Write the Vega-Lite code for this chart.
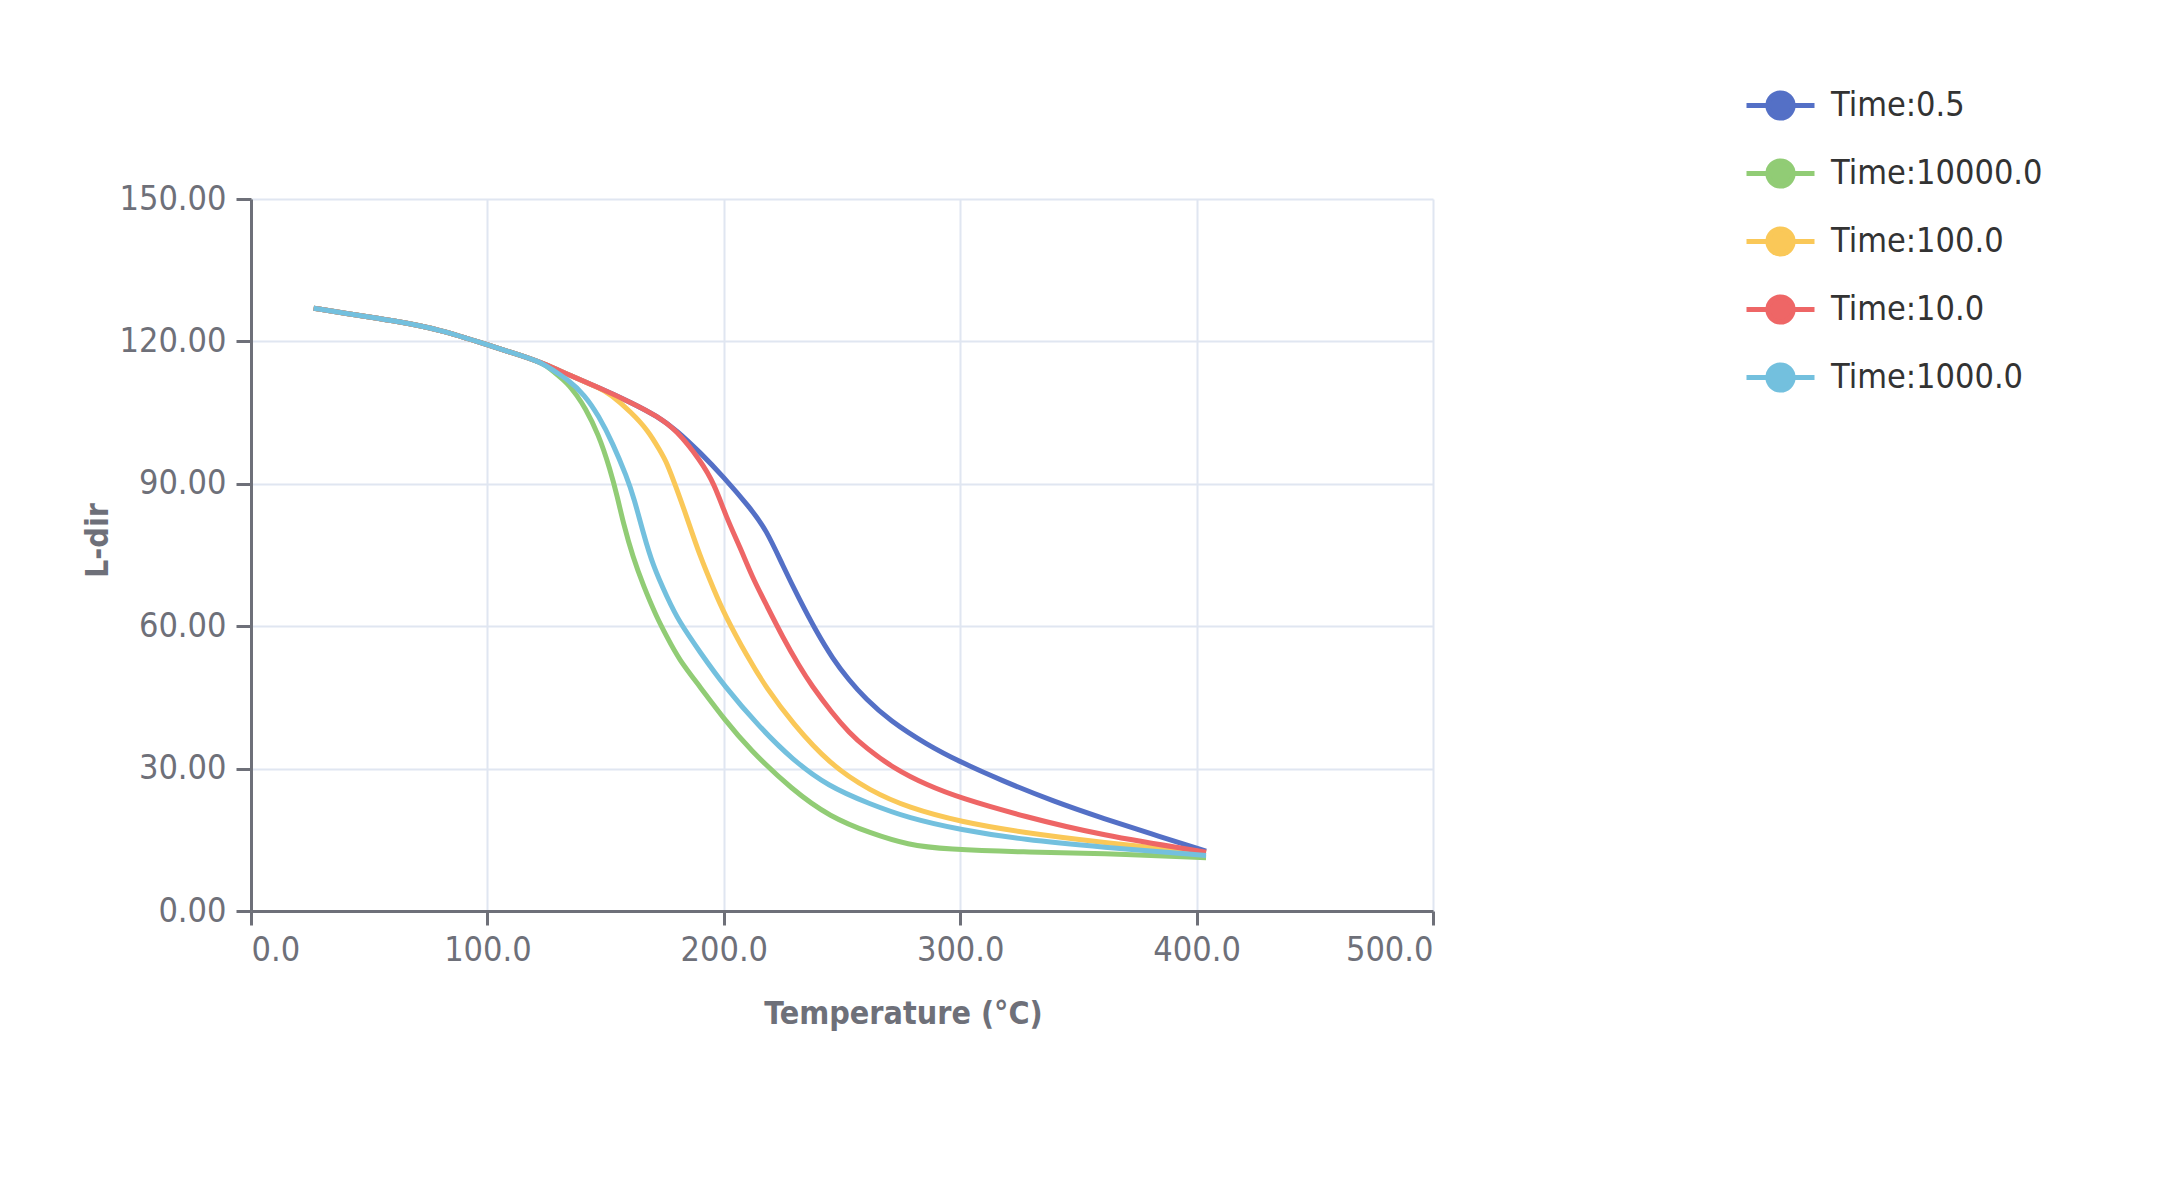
{
  "$schema": "https://vega.github.io/schema/vega-lite/v6.json",
  "width": 1182,
  "height": 712,
  "autosize": {"type": "none"},
  "padding": {"left": 251, "top": 199, "right": 748, "bottom": 266},
  "background": "white",
  "view": {"stroke": null},
  "config": {
    "font": "DejaVu Sans Condensed",
    "axis": {
      "labelFont": "DejaVu Sans Condensed",
      "titleFont": "DejaVu Sans Condensed",
      "labelFontSize": 34,
      "titleFontSize": 32,
      "labelColor": "#6E7079",
      "titleColor": "#6E7079",
      "titleFontWeight": "bold",
      "domainColor": "#6E7079",
      "domainWidth": 3,
      "tickColor": "#6E7079",
      "tickWidth": 3,
      "tickSize": 15,
      "gridColor": "#E0E6F1",
      "gridWidth": 2
    },
    "legend": {
      "labelFont": "DejaVu Sans Condensed",
      "labelFontSize": 34,
      "labelColor": "#333333",
      "labelLimit": 0
    }
  },
  "data": {
    "values": [
      {"Time": "Time:0.5", "Temperature": 26.5, "L_dir": 127.0},
      {"Time": "Time:0.5", "Temperature": 40, "L_dir": 125.9},
      {"Time": "Time:0.5", "Temperature": 60, "L_dir": 124.4},
      {"Time": "Time:0.5", "Temperature": 80, "L_dir": 122.5},
      {"Time": "Time:0.5", "Temperature": 100, "L_dir": 119.3},
      {"Time": "Time:0.5", "Temperature": 115, "L_dir": 116.9},
      {"Time": "Time:0.5", "Temperature": 124, "L_dir": 115.3},
      {"Time": "Time:0.5", "Temperature": 135, "L_dir": 112.8},
      {"Time": "Time:0.5", "Temperature": 147, "L_dir": 110.3},
      {"Time": "Time:0.5", "Temperature": 161, "L_dir": 107.1},
      {"Time": "Time:0.5", "Temperature": 172, "L_dir": 104.2},
      {"Time": "Time:0.5", "Temperature": 180, "L_dir": 101.3},
      {"Time": "Time:0.5", "Temperature": 190, "L_dir": 96.6},
      {"Time": "Time:0.5", "Temperature": 200, "L_dir": 91.4},
      {"Time": "Time:0.5", "Temperature": 211, "L_dir": 85.0},
      {"Time": "Time:0.5", "Temperature": 218, "L_dir": 80.3},
      {"Time": "Time:0.5", "Temperature": 225, "L_dir": 72.7},
      {"Time": "Time:0.5", "Temperature": 232, "L_dir": 65.6},
      {"Time": "Time:0.5", "Temperature": 239, "L_dir": 59.0},
      {"Time": "Time:0.5", "Temperature": 246, "L_dir": 53.2},
      {"Time": "Time:0.5", "Temperature": 253, "L_dir": 48.6},
      {"Time": "Time:0.5", "Temperature": 260, "L_dir": 44.7},
      {"Time": "Time:0.5", "Temperature": 270, "L_dir": 40.2},
      {"Time": "Time:0.5", "Temperature": 286, "L_dir": 35.0},
      {"Time": "Time:0.5", "Temperature": 300, "L_dir": 31.4},
      {"Time": "Time:0.5", "Temperature": 317, "L_dir": 27.6},
      {"Time": "Time:0.5", "Temperature": 340, "L_dir": 23.0},
      {"Time": "Time:0.5", "Temperature": 360, "L_dir": 19.6},
      {"Time": "Time:0.5", "Temperature": 380, "L_dir": 16.4},
      {"Time": "Time:0.5", "Temperature": 404, "L_dir": 12.6},

      {"Time": "Time:10000.0", "Temperature": 26.5, "L_dir": 127.0},
      {"Time": "Time:10000.0", "Temperature": 40, "L_dir": 125.9},
      {"Time": "Time:10000.0", "Temperature": 60, "L_dir": 124.4},
      {"Time": "Time:10000.0", "Temperature": 80, "L_dir": 122.5},
      {"Time": "Time:10000.0", "Temperature": 100, "L_dir": 119.3},
      {"Time": "Time:10000.0", "Temperature": 115, "L_dir": 116.9},
      {"Time": "Time:10000.0", "Temperature": 124, "L_dir": 115.3},
      {"Time": "Time:10000.0", "Temperature": 128, "L_dir": 113.6},
      {"Time": "Time:10000.0", "Temperature": 134, "L_dir": 111.2},
      {"Time": "Time:10000.0", "Temperature": 138, "L_dir": 108.5},
      {"Time": "Time:10000.0", "Temperature": 141, "L_dir": 106.3},
      {"Time": "Time:10000.0", "Temperature": 147, "L_dir": 100.5},
      {"Time": "Time:10000.0", "Temperature": 152, "L_dir": 92.9},
      {"Time": "Time:10000.0", "Temperature": 155, "L_dir": 87.2},
      {"Time": "Time:10000.0", "Temperature": 157.5, "L_dir": 81.7},
      {"Time": "Time:10000.0", "Temperature": 161.5, "L_dir": 74.6},
      {"Time": "Time:10000.0", "Temperature": 166, "L_dir": 68.5},
      {"Time": "Time:10000.0", "Temperature": 171.5, "L_dir": 62.0},
      {"Time": "Time:10000.0", "Temperature": 176, "L_dir": 57.7},
      {"Time": "Time:10000.0", "Temperature": 181, "L_dir": 53.0},
      {"Time": "Time:10000.0", "Temperature": 190, "L_dir": 47.2},
      {"Time": "Time:10000.0", "Temperature": 200, "L_dir": 40.5},
      {"Time": "Time:10000.0", "Temperature": 211, "L_dir": 34.0},
      {"Time": "Time:10000.0", "Temperature": 229, "L_dir": 25.5},
      {"Time": "Time:10000.0", "Temperature": 245, "L_dir": 19.8},
      {"Time": "Time:10000.0", "Temperature": 262, "L_dir": 16.4},
      {"Time": "Time:10000.0", "Temperature": 278, "L_dir": 13.9},
      {"Time": "Time:10000.0", "Temperature": 294, "L_dir": 13.0},
      {"Time": "Time:10000.0", "Temperature": 327, "L_dir": 12.4},
      {"Time": "Time:10000.0", "Temperature": 359, "L_dir": 12.2},
      {"Time": "Time:10000.0", "Temperature": 404, "L_dir": 11.2},

      {"Time": "Time:100.0", "Temperature": 26.5, "L_dir": 127.0},
      {"Time": "Time:100.0", "Temperature": 40, "L_dir": 125.9},
      {"Time": "Time:100.0", "Temperature": 60, "L_dir": 124.4},
      {"Time": "Time:100.0", "Temperature": 80, "L_dir": 122.5},
      {"Time": "Time:100.0", "Temperature": 100, "L_dir": 119.3},
      {"Time": "Time:100.0", "Temperature": 115, "L_dir": 116.9},
      {"Time": "Time:100.0", "Temperature": 124, "L_dir": 115.3},
      {"Time": "Time:100.0", "Temperature": 135, "L_dir": 112.8},
      {"Time": "Time:100.0", "Temperature": 147, "L_dir": 110.3},
      {"Time": "Time:100.0", "Temperature": 152, "L_dir": 108.9},
      {"Time": "Time:100.0", "Temperature": 161, "L_dir": 105.0},
      {"Time": "Time:100.0", "Temperature": 168, "L_dir": 101.2},
      {"Time": "Time:100.0", "Temperature": 173, "L_dir": 97.0},
      {"Time": "Time:100.0", "Temperature": 176, "L_dir": 94.4},
      {"Time": "Time:100.0", "Temperature": 180, "L_dir": 89.0},
      {"Time": "Time:100.0", "Temperature": 184, "L_dir": 83.5},
      {"Time": "Time:100.0", "Temperature": 190, "L_dir": 74.6},
      {"Time": "Time:100.0", "Temperature": 196, "L_dir": 67.5},
      {"Time": "Time:100.0", "Temperature": 200, "L_dir": 62.8},
      {"Time": "Time:100.0", "Temperature": 210, "L_dir": 53.5},
      {"Time": "Time:100.0", "Temperature": 218, "L_dir": 47.0},
      {"Time": "Time:100.0", "Temperature": 229, "L_dir": 39.6},
      {"Time": "Time:100.0", "Temperature": 245, "L_dir": 30.8},
      {"Time": "Time:100.0", "Temperature": 262, "L_dir": 25.3},
      {"Time": "Time:100.0", "Temperature": 278, "L_dir": 21.8},
      {"Time": "Time:100.0", "Temperature": 300, "L_dir": 18.8},
      {"Time": "Time:100.0", "Temperature": 327, "L_dir": 16.5},
      {"Time": "Time:100.0", "Temperature": 359, "L_dir": 14.5},
      {"Time": "Time:100.0", "Temperature": 404, "L_dir": 12.2},

      {"Time": "Time:10.0", "Temperature": 26.5, "L_dir": 127.0},
      {"Time": "Time:10.0", "Temperature": 40, "L_dir": 125.9},
      {"Time": "Time:10.0", "Temperature": 60, "L_dir": 124.4},
      {"Time": "Time:10.0", "Temperature": 80, "L_dir": 122.5},
      {"Time": "Time:10.0", "Temperature": 100, "L_dir": 119.3},
      {"Time": "Time:10.0", "Temperature": 115, "L_dir": 116.9},
      {"Time": "Time:10.0", "Temperature": 124, "L_dir": 115.3},
      {"Time": "Time:10.0", "Temperature": 135, "L_dir": 112.8},
      {"Time": "Time:10.0", "Temperature": 147, "L_dir": 110.3},
      {"Time": "Time:10.0", "Temperature": 161, "L_dir": 107.1},
      {"Time": "Time:10.0", "Temperature": 172, "L_dir": 104.2},
      {"Time": "Time:10.0", "Temperature": 180, "L_dir": 101.3},
      {"Time": "Time:10.0", "Temperature": 190, "L_dir": 95.0},
      {"Time": "Time:10.0", "Temperature": 196, "L_dir": 90.0},
      {"Time": "Time:10.0", "Temperature": 201, "L_dir": 83.0},
      {"Time": "Time:10.0", "Temperature": 207, "L_dir": 76.5},
      {"Time": "Time:10.0", "Temperature": 212, "L_dir": 70.4},
      {"Time": "Time:10.0", "Temperature": 218, "L_dir": 64.5},
      {"Time": "Time:10.0", "Temperature": 225, "L_dir": 57.6},
      {"Time": "Time:10.0", "Temperature": 232, "L_dir": 51.5},
      {"Time": "Time:10.0", "Temperature": 237, "L_dir": 47.6},
      {"Time": "Time:10.0", "Temperature": 246, "L_dir": 41.6},
      {"Time": "Time:10.0", "Temperature": 253, "L_dir": 37.6},
      {"Time": "Time:10.0", "Temperature": 260, "L_dir": 34.4},
      {"Time": "Time:10.0", "Temperature": 272, "L_dir": 30.0},
      {"Time": "Time:10.0", "Temperature": 286, "L_dir": 26.5},
      {"Time": "Time:10.0", "Temperature": 300, "L_dir": 23.8},
      {"Time": "Time:10.0", "Temperature": 327, "L_dir": 19.9},
      {"Time": "Time:10.0", "Temperature": 359, "L_dir": 16.0},
      {"Time": "Time:10.0", "Temperature": 404, "L_dir": 12.4},

      {"Time": "Time:1000.0", "Temperature": 26.5, "L_dir": 127.0},
      {"Time": "Time:1000.0", "Temperature": 40, "L_dir": 125.9},
      {"Time": "Time:1000.0", "Temperature": 60, "L_dir": 124.4},
      {"Time": "Time:1000.0", "Temperature": 80, "L_dir": 122.5},
      {"Time": "Time:1000.0", "Temperature": 100, "L_dir": 119.3},
      {"Time": "Time:1000.0", "Temperature": 115, "L_dir": 116.9},
      {"Time": "Time:1000.0", "Temperature": 124, "L_dir": 115.3},
      {"Time": "Time:1000.0", "Temperature": 128, "L_dir": 113.8},
      {"Time": "Time:1000.0", "Temperature": 134, "L_dir": 112.0},
      {"Time": "Time:1000.0", "Temperature": 141, "L_dir": 108.8},
      {"Time": "Time:1000.0", "Temperature": 147, "L_dir": 104.4},
      {"Time": "Time:1000.0", "Temperature": 153, "L_dir": 98.6},
      {"Time": "Time:1000.0", "Temperature": 159, "L_dir": 91.4},
      {"Time": "Time:1000.0", "Temperature": 162, "L_dir": 87.0},
      {"Time": "Time:1000.0", "Temperature": 166, "L_dir": 79.5},
      {"Time": "Time:1000.0", "Temperature": 170, "L_dir": 72.8},
      {"Time": "Time:1000.0", "Temperature": 176, "L_dir": 66.1},
      {"Time": "Time:1000.0", "Temperature": 181, "L_dir": 61.0},
      {"Time": "Time:1000.0", "Temperature": 190, "L_dir": 54.5},
      {"Time": "Time:1000.0", "Temperature": 200, "L_dir": 47.5},
      {"Time": "Time:1000.0", "Temperature": 215, "L_dir": 38.8},
      {"Time": "Time:1000.0", "Temperature": 229, "L_dir": 31.9},
      {"Time": "Time:1000.0", "Temperature": 244, "L_dir": 26.3},
      {"Time": "Time:1000.0", "Temperature": 262, "L_dir": 22.5},
      {"Time": "Time:1000.0", "Temperature": 278, "L_dir": 19.6},
      {"Time": "Time:1000.0", "Temperature": 300, "L_dir": 17.1},
      {"Time": "Time:1000.0", "Temperature": 327, "L_dir": 15.0},
      {"Time": "Time:1000.0", "Temperature": 359, "L_dir": 13.5},
      {"Time": "Time:1000.0", "Temperature": 404, "L_dir": 11.7}
    ]
  },
  "mark": {"type": "line", "strokeWidth": 5, "interpolate": "basis"},
  "encoding": {
    "x": {
      "field": "Temperature",
      "type": "quantitative",
      "title": "Temperature (°C)",
      "scale": {"domain": [0, 500], "nice": false},
      "axis": {
        "values": [0, 100, 200, 300, 400, 500],
        "format": ".1f",
        "tickSize": 14,
        "labelPadding": 8,
        "titleX": 652,
        "titleY": 112,
        "titleAlign": "center",
        "titleBaseline": "alphabetic"
      }
    },
    "y": {
      "field": "L_dir",
      "type": "quantitative",
      "title": "L-dir",
      "scale": {"domain": [0, 150], "nice": false},
      "axis": {
        "values": [0, 30, 60, 90, 120, 150],
        "format": ".2f",
        "labelPadding": 10,
        "titleAngle": -90,
        "titleX": -144,
        "titleY": 341,
        "titleAlign": "center",
        "titleBaseline": "alphabetic"
      }
    },
    "color": {
      "field": "Time",
      "type": "nominal",
      "title": null,
      "scale": {
        "domain": ["Time:0.5", "Time:10000.0", "Time:100.0", "Time:10.0", "Time:1000.0"],
        "range": ["#5470c6", "#91cc75", "#fac858", "#ee6666", "#73c0de"]
      },
      "legend": {
        "orient": "none",
        "legendX": 1493,
        "legendY": -130,
        "padding": 0,
        "symbolType": "M-1,0H1M0.37,0A0.37,0.37,0,1,1,-0.37,0A0.37,0.37,0,1,1,0.37,0Z",
        "symbolSize": 4624,
        "symbolStrokeWidth": 5,
        "labelOffset": 14,
        "rowPadding": 8,
        "encode": {
          "symbols": {
            "update": {
              "fill": {"scale": "color", "field": "value"},
              "stroke": {"scale": "color", "field": "value"}
            }
          }
        }
      }
    }
  }
}
